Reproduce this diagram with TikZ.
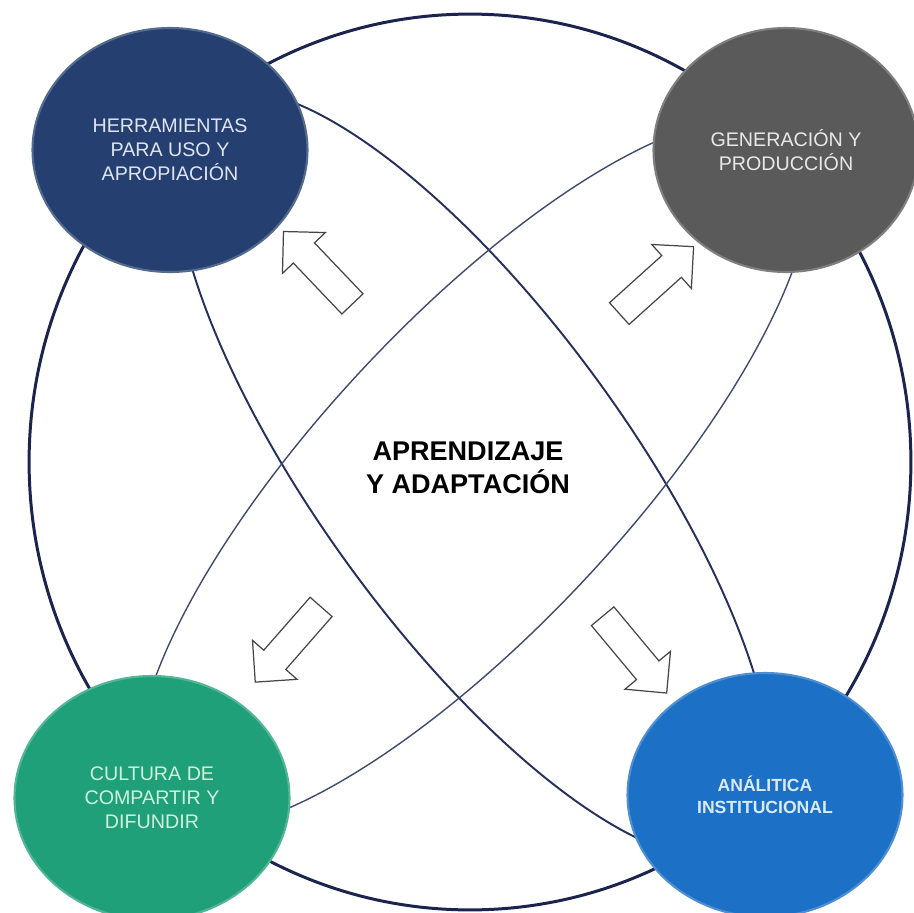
\documentclass[tikz,border=0pt]{standalone}
\usepackage{fontspec}
\setmainfont{Liberation Sans}
\usetikzlibrary{shapes.geometric,shapes.arrows}
\definecolor{ringnavy}{RGB}{26,36,78}
\definecolor{lineA}{RGB}{38,48,92}
\definecolor{lineB}{RGB}{62,74,112}
\definecolor{cnavy}{RGB}{37,64,112}
\definecolor{cgray}{RGB}{90,90,90}
\definecolor{cgreen}{RGB}{32,160,120}
\definecolor{cblue}{RGB}{28,112,198}
\definecolor{tnavy}{RGB}{222,228,240}
\definecolor{tgray}{RGB}{232,232,232}
\definecolor{tgreen}{RGB}{205,242,222}
\definecolor{tblue}{RGB}{216,234,251}
\definecolor{arrowline}{RGB}{70,70,70}
\begin{document}
\begin{tikzpicture}[x=0.02cm,y=-0.02cm,
  bigring/.style={draw=ringnavy, line width=1.7pt},
  ellA/.style={draw=lineA, line width=1.1pt},
  ellB/.style={draw=lineB, line width=0.8pt},
  bubble/.style={ellipse, minimum width=5.5cm, minimum height=4.88cm, inner sep=0pt,
    align=center, fill=#1, draw=#1!78!white, line width=1.2pt},
  bubtext/.style={font=\fontsize{11.2}{13.6}\selectfont},
  blockarrow/.style={single arrow, draw=arrowline, fill=white, line width=0.7pt,
    minimum height=2cm, minimum width=1.16cm, single arrow head extend=0.3cm,
    single arrow head indent=0pt, inner xsep=0pt, inner ysep=0.28cm}
]
\useasboundingbox (0,0) rectangle (914,913);
\fill[white] (0,0) rectangle (914,913);
% big ring
\draw[bigring] (470,462) ellipse [x radius=8.82cm, y radius=8.96cm];
% two crossing ellipses
\draw[ellA, rotate around={-54:(474,474)}] (474,474) ellipse [x radius=9.2cm, y radius=3.1cm];
\draw[ellB, rotate around={47:(474,474)}] (474,474) ellipse [x radius=9.3cm, y radius=3.06cm];
% bubbles
\node[bubble=cnavy, bubtext, text=tnavy] (tl) at (170,150) {HERRAMIENTAS\\PARA USO Y\\APROPIACIÓN};
\node[bubble=cgray, bubtext, text=tgray, minimum width=5.3cm] (tr) at (786,150) {GENERACIÓN Y\\PRODUCCIÓN};
\node[bubble=cgreen, bubtext, text=tgreen] (bl) at (152,798) {CULTURA DE\\COMPARTIR Y\\DIFUNDIR};
\node[bubble=cblue, text=tblue, font=\bfseries\fontsize{10}{12.6}\selectfont] (br) at (765,795) {ANÁLITICA\\INSTITUCIONAL};
% centre
\node[font=\bfseries\fontsize{15.4}{18.9}\selectfont, align=center] (center) at (468,468) {APRENDIZAJE\\Y ADAPTACIÓN};
% block arrows
\node[blockarrow, rotate=133.6] (a1) at (323,273) {};
\node[blockarrow, rotate=42] (a2) at (651,285) {};
\node[blockarrow, rotate=228.8] (a3) at (293,639) {};
\node[blockarrow, rotate=-50.2] (a4) at (630,649) {};
\end{tikzpicture}
\end{document}
